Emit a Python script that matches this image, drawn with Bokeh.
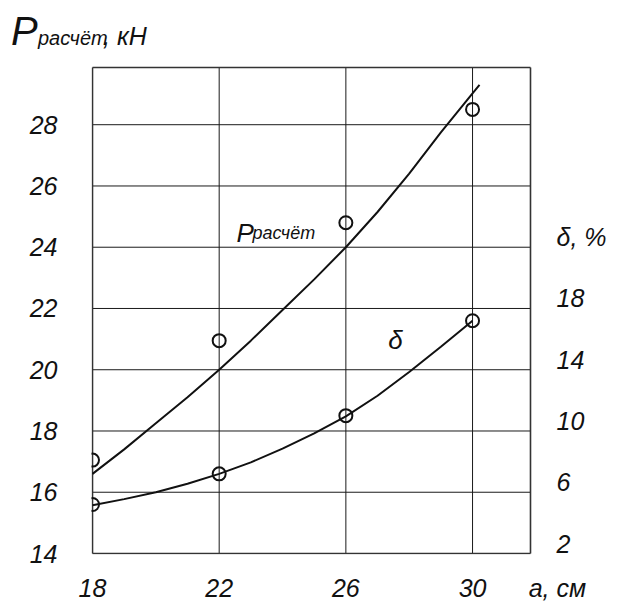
from bokeh.plotting import figure
from bokeh.models import Range1d, FixedTicker, Label, Div, ColumnDataSource
from bokeh.layouts import column
from bokeh.embed import file_html
from bokeh.resources import INLINE

# ---- data ----
a_cm = [18, 22, 26, 30]
p_calc = [17.05, 20.95, 24.8, 28.5]        # P расчёт, кН (left axis)
delta_pct = [5.2, 7.2, 11.0, 17.2]         # δ, % (right axis)

p_curve_x = [18, 19, 20, 21, 22, 23, 24, 25, 26, 27, 28, 29, 30, 30.22]
p_curve_y = [16.6, 17.4, 18.25, 19.1, 20.0, 20.95, 21.95, 22.95, 24.0, 25.15, 26.4, 27.75, 29.02, 29.3]

d_curve_x = [18, 19, 20, 21, 22, 23, 24, 25, 26, 27, 28, 29, 30]
d_curve_y = [5.15, 5.55, 6.0, 6.55, 7.2, 7.95, 8.85, 9.85, 10.95, 12.3, 13.85, 15.5, 17.2]

x_ticks = [18, 22, 26, 30]
x_unit_label = "а, см"
p_ticks = [14, 16, 18, 20, 22, 24, 26, 28]
d_ticks = [2, 6, 10, 14, 18, 22]
d_tick_labels = ["2", "6", "10", "14", "18", "δ, %"]

# ---- layout constants ----
FONT = "Liberation Sans"
INK = "#111111"
X_END = 31.83          # right edge of the drawn box
Y_TOP = 29.87          # top edge of the drawn box
X_UNIT_POS = 32.68     # where the x unit text sits
X0, Y0 = x_ticks[0], p_ticks[0]

title_html = (
    '<div style="position:relative;width:622px;height:55px;font-family:\'Liberation Sans\';'
    'font-style:italic;color:#111111;line-height:1;white-space:nowrap;">'
    '<span style="position:absolute;left:11px;top:11.1px;font-size:40px;">P</span>'
    '<span style="position:absolute;left:38px;top:28.1px;font-size:20px;">расчёт</span>'
    '<span style="position:absolute;left:103px;top:23.8px;font-size:25px;">, кН</span>'
    '</div>'
)
header = Div(text=title_html, width=622, height=55, margin=0)

p = figure(width=622, height=549, output_backend="svg", toolbar_location=None,
           x_range=Range1d(17.9684, 34.7351), y_range=Range1d(13.9674, 29.966),
           min_border_left=91, min_border_right=0, min_border_top=9, min_border_bottom=49,
           margin=0)
p.extra_y_ranges = {"d": Range1d(1.9348, 33.932)}

p.outline_line_color = None
p.background_fill_color = "white"
p.border_fill_color = "white"
p.grid.visible = False

def style_axis(ax, size, standoff):
    ax.axis_line_color = None
    ax.major_tick_line_color = None
    ax.minor_tick_line_color = None
    ax.major_tick_out = 0
    ax.major_tick_in = 0
    ax.minor_tick_out = 0
    ax.minor_tick_in = 0
    ax.major_label_text_font = FONT
    ax.major_label_text_font_style = "italic"
    ax.major_label_text_font_size = size
    ax.major_label_text_color = INK
    ax.major_label_standoff = standoff

p.xaxis.ticker = FixedTicker(ticks=x_ticks + [X_UNIT_POS])
p.xaxis.major_label_overrides = {X_UNIT_POS: x_unit_label}
style_axis(p.xaxis[0], "25px", 19)
p.yaxis.ticker = FixedTicker(ticks=p_ticks)
style_axis(p.yaxis[0], "25px", 34)

# grid lines inside the box
n_v = len(x_ticks) - 1
n_h = len(p_ticks) - 1
p.segment(x0=x_ticks[1:], y0=[Y0] * n_v, x1=x_ticks[1:], y1=[Y_TOP] * n_v,
          line_color="#1a1a1a", line_width=1)
p.segment(x0=[X0] * n_h, y0=p_ticks[1:], x1=[X_END] * n_h, y1=p_ticks[1:],
          line_color="#1a1a1a", line_width=1)
# box
p.segment(x0=[X0, X0, X_END, X0], y0=[Y0, Y_TOP, Y0, Y0],
          x1=[X0, X_END, X_END, X_END], y1=[Y_TOP, Y_TOP, Y_TOP, Y0],
          line_color="#333333", line_width=1.6)

# right-hand scale labels (δ, %), sitting on their grid lines
rsrc = ColumnDataSource(dict(x=[X_END] * len(d_ticks), y=d_ticks, t=d_tick_labels))
p.text(x="x", y="y", text="t", source=rsrc, y_range_name="d", x_offset=26, y_offset=-10,
       text_font={"value": FONT}, text_font_style="italic", text_font_size="25px",
       text_color=INK, text_align="left", text_baseline="middle")

# curves
p.line(p_curve_x, p_curve_y, line_color=INK, line_width=2)
p.line(d_curve_x, d_curve_y, line_color=INK, line_width=2, y_range_name="d")

# measured points
p.scatter(a_cm, p_calc, marker="circle", size=13, fill_color=None, line_color=INK, line_width=2)
p.scatter(a_cm, delta_pct, marker="circle", size=13, fill_color=None, line_color=INK, line_width=2,
          y_range_name="d")

def lab(x, y, text, size, align="left", baseline="alphabetic"):
    p.add_layout(Label(x=x, y=y, text=text, text_font=FONT, text_font_style="italic",
                       text_font_size=size, text_color=INK, text_align=align,
                       text_baseline=baseline))

# curve labels
lab(22.55, 24.46, "P", "26px")
lab(23.05, 24.46, "расчёт", "18px")
lab(27.57, 20.96, "δ", "26px", align="center", baseline="middle")

layout = column(header, p, spacing=0, margin=0)
open("out.html", "w").write(file_html(layout, INLINE))
